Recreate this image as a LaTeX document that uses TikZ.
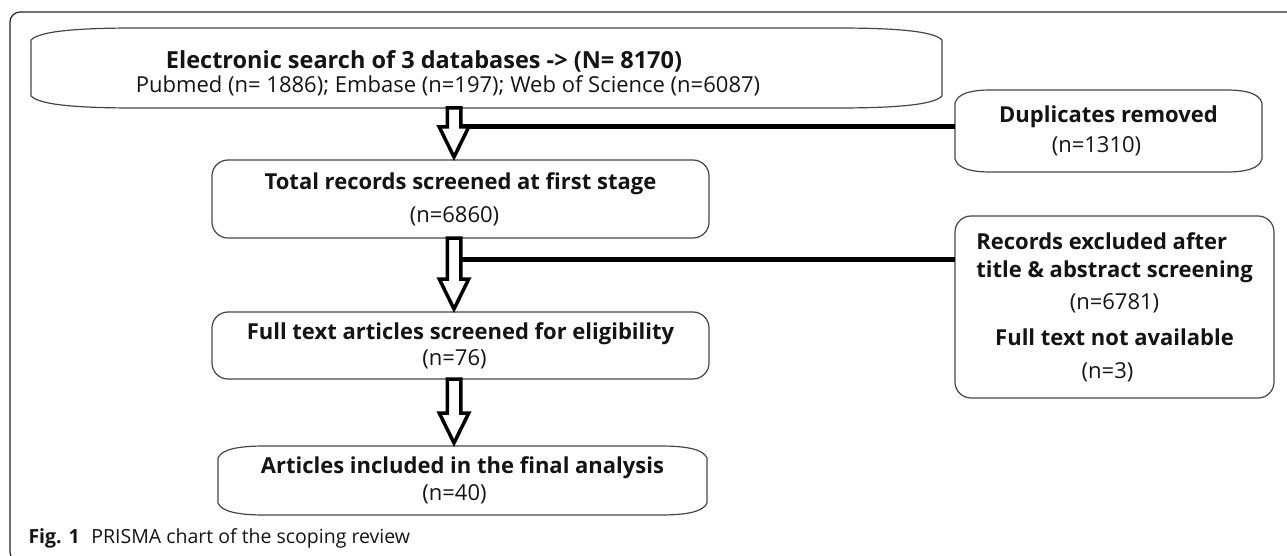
\documentclass[tikz,border=0pt]{standalone}
\usepackage{fontspec}
\setmainfont{Open Sans}
\usetikzlibrary{calc}
\definecolor{boxedge} {RGB}{ 70, 70, 70}
\definecolor{arrowcol}{RGB}{  0,  0,  0}
\definecolor{framecol}{RGB}{ 35, 35, 35}
\definecolor{textcol} {RGB}{ 20, 20, 20}
\def\shafthalf{6.75pt}
\def\headhalf{14.75pt}
\def\headlen{33pt}
% box with bent corners: node, corner width, corner height
\newcommand\cushion[3]{%
  \draw[boxline]
    ([yshift=-#3]#1.north west)
      .. controls ([xshift=0.08*#2,yshift=-0.25*#3]#1.north west)
             and ([xshift=0.45*#2]#1.north west) .. ([xshift=#2]#1.north west)
    -- ([xshift=-#2]#1.north east)
      .. controls ([xshift=-0.45*#2]#1.north east)
             and ([xshift=-0.08*#2,yshift=-0.25*#3]#1.north east) .. ([yshift=-#3]#1.north east)
    -- ([yshift=#3]#1.south east)
      .. controls ([xshift=-0.08*#2,yshift=0.25*#3]#1.south east)
             and ([xshift=-0.45*#2]#1.south east) .. ([xshift=-#2]#1.south east)
    -- ([xshift=#2]#1.south west)
      .. controls ([xshift=0.45*#2]#1.south west)
             and ([xshift=0.08*#2,yshift=0.25*#3]#1.south west) .. ([yshift=#3]#1.south west)
    -- cycle;}
% hollow block arrow: from node, to node, x position
\newcommand\blockarrow[3]{%
  \draw[arrowbody] let \p1=(#1.south), \p2=(#2.north), \p3=(#3,0) in
    (\x3-\shafthalf,\y1) -- (\x3+\shafthalf,\y1) -- (\x3+\shafthalf,\y2+\headlen)
    -- (\x3+\headhalf,\y2+\headlen) -- (\x3,\y2+3pt) -- (\x3-\headhalf,\y2+\headlen)
    -- (\x3-\shafthalf,\y2+\headlen) -- cycle;}

\begin{document}
\begin{tikzpicture}[
  % one unit = one pixel of the 1287 x 556 page, y running downwards
  x=1pt,y=-1pt,
  line cap=round,line join=round,
  boxtext/.style={font=\fontsize{22}{26}\selectfont,text=textcol,align=center},
  boxline/.style={draw=boxedge,line width=1.2pt},
  cushionbox/.style={inner sep=0pt,outer sep=0pt},
  roundbox/.style={boxline,rounded corners=16pt,inner sep=0pt,outer sep=0pt},
  arrowbody/.style={draw=arrowcol,line width=3.5pt,fill=white,line join=miter},
  splitline/.style={draw=arrowcol,line width=5pt,line cap=butt},
  frameline/.style={draw=framecol,line width=1.2pt}
]
\useasboundingbox (0,0) rectangle (1287,556);

% ---- outer frame ---------------------------------------------------------
\begin{scope}
  \clip (0,0) rectangle (1287,556);
  \draw[frameline,rounded corners=10pt] (10,12) rectangle (1330,562);
\end{scope}

% ---- main column -----------------------------------------------------------
\node[cushionbox,minimum width=911pt,minimum height=80pt] (search) at (486.5,68) {};
\node[boxtext] (searchtext) at (448,73)
  {{\fontsize{23.5}{26}\selectfont\textbf{Electronic search of 3 databases -> (N= 8170)}}\hspace*{48pt}\\[-2pt]
   Pubmed (n= 1886); Embase (n=197); Web of Science (n=6087)};
\node[roundbox,boxtext,minimum width=497pt,minimum height=78pt] (screen) at (460.5,199)
  {\textbf{Total records screened at first stage}\\[7pt](n=6860)\hspace*{12pt}};
\node[roundbox,boxtext,minimum width=497pt,minimum height=67pt] (fulltext) at (460.5,345.5)
  {\textbf{Full text articles screened for eligibility}\\(n=76)\hspace*{12pt}};
\node[cushionbox,boxtext,minimum width=489pt,minimum height=69pt] (included) at (462.5,480.5)
  {\textbf{Articles included in the final analysis}\\[1pt](n=40)\hspace*{16pt}};

% ---- side boxes ------------------------------------------------------------
\node[cushionbox,boxtext,minimum width=307pt,minimum height=82pt] (dups) at (1108.5,131)
  {\textbf{Duplicates removed}\\[4pt](n=1310)\hspace*{24pt}};
\node[roundbox,boxtext,minimum width=319pt,minimum height=182pt] (excluded) at (1114.5,307)
  {\textbf{\rlap{Records excluded after}\phantom{title \& abstract screening}}\\[2pt]
   \textbf{title \& abstract screening}\\[6pt]
   (n=6781)\hspace*{18pt}\\[10pt]
   \textbf{Full text not available}\hspace*{34pt}\\[7pt]
   (n=3)\hspace*{14pt}};

\cushion{search}{105pt}{12pt}
\cushion{dups}{36pt}{13pt}
\cushion{included}{47pt}{12pt}

% ---- removal lines -----------------------------------------------------------
\coordinate (split1) at (454,127);
\coordinate (split2) at (454,259);
\draw[splitline] ([xshift=\shafthalf]split1) -- (split1 -| dups.west);
\draw[splitline] ([xshift=\shafthalf]split2) -- (split2 -| excluded.west);

% ---- block arrows ------------------------------------------------------------
\blockarrow{search}{screen}{454}
\blockarrow{screen}{fulltext}{454}
\blockarrow{fulltext}{included}{454}

% ---- caption -----------------------------------------------------------------
\node[anchor=west,font=\fontsize{19.5}{22}\selectfont,text=textcol] (caption) at (25,538)
  {\textbf{Fig. 1}\hspace{0.6em}PRISMA chart of the scoping review};

\end{tikzpicture}
\end{document}
